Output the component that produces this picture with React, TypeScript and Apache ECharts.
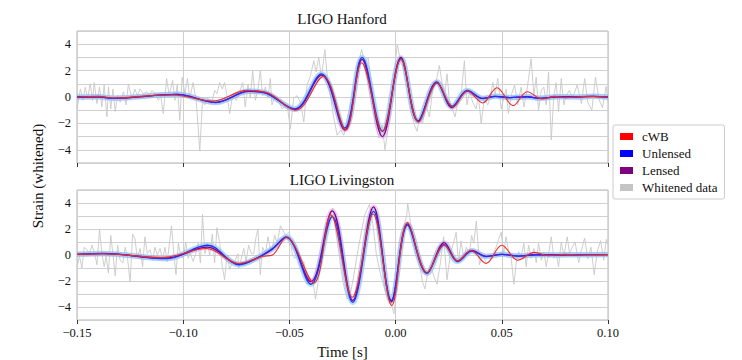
import React, { useEffect, useRef } from "react";
import * as echarts from "echarts";

const X_MIN = -0.15;
const X_MAX = 0.1;
const X_STEP = 0.05;
const Y_MIN = -5;
const Y_MAX = 5;
const Y_TICKS = [-4, -2, 0, 2, 4];
const PANEL_TITLES = ["LIGO Hanford", "LIGO Livingston"];
const LEGEND_NAMES = ["cWB", "Unlensed", "Lensed", "Whitened data"];

// ---- LIGO Hanford ----
const hanfordData: number[][] = [
  [-0.15, -0.9], [-0.1484, 0.6], [-0.1472, -0.25], [-0.1461, 0.75], [-0.145, -0.12], [-0.1438, 1.0], [-0.1427, -0.25], [-0.1419, 1.1],
  [-0.1406, -0.5], [-0.1394, 0.75], [-0.1383, -0.75], [-0.1372, 0.9], [-0.1359, -1.5], [-0.1352, 0.75], [-0.1341, -0.9], [-0.1331, 0.6],
  [-0.132, -1.1], [-0.1309, 0.1], [-0.1297, -0.4], [-0.1281, 0.4], [-0.1269, -0.6], [-0.1258, 1.0], [-0.1242, -0.1], [-0.1227, 0.6],
  [-0.1216, 0.1], [-0.1203, 0.6], [-0.1188, 0.25], [-0.1172, 0.4], [-0.1159, 0.1], [-0.1148, 0.5], [-0.1133, 0.3], [-0.1117, -0.25],
  [-0.1106, 0.1], [-0.1094, -1.25], [-0.1078, 1.4], [-0.1066, 0.1], [-0.105, 1.25], [-0.1039, -0.25], [-0.1028, 0.9], [-0.1016, -1.75],
  [-0.1005, 1.5], [-0.0992, 0.25], [-0.098, 1.4], [-0.0969, -0.1], [-0.0953, 1.1], [-0.0938, -0.4], [-0.0922, -4.1], [-0.0909, -0.25],
  [-0.0898, -0.6], [-0.0883, 0], [-0.0867, -0.5], [-0.0852, 0.5], [-0.0841, 0.25], [-0.0828, 1.1], [-0.0816, 0.6], [-0.0805, 1.1],
  [-0.0794, 0.1], [-0.0781, -1.25], [-0.0766, 0.25], [-0.075, -0.25], [-0.0734, 0.4], [-0.072, 1.1], [-0.0708, -0.75], [-0.0695, 0.9],
  [-0.0684, -0.1], [-0.0673, 2.0], [-0.066, -0.25], [-0.0648, 0.6], [-0.0637, 2.0], [-0.0626, 0.1], [-0.0613, 0.75], [-0.0601, -0.1],
  [-0.059, 1.4], [-0.0582, -0.6], [-0.0566, 0.1], [-0.055, -0.25], [-0.0535, -0.9], [-0.0511, -0.6], [-0.0495, -2.4], [-0.048, -0.1],
  [-0.0464, 0.1], [-0.0448, -0.4], [-0.0432, -1.9], [-0.0417, 0.9], [-0.0401, 1.6], [-0.0385, 2.75], [-0.0374, 1.9], [-0.0362, 3.0],
  [-0.0349, 1.5], [-0.0333, 3.6], [-0.0322, 1.6], [-0.0307, 0.1], [-0.0291, -1.6], [-0.0275, -2.9], [-0.0259, -2.5], [-0.0244, -2.9],
  [-0.0228, -1.6], [-0.0204, 0.1], [-0.0181, 2.1], [-0.016, 3.6], [-0.0145, 2.6], [-0.0129, 3.0], [-0.0113, 0.9], [-0.0097, -1.9],
  [-0.0079, -3.1], [-0.0063, -2.1], [-0.005, -4.0], [-0.0035, -2.4], [-0.0019, -0.6], [-0.0003, 2.4], [0.0008, 4.0], [0.0024, 2.6],
  [0.0039, 2.2], [0.0057, 1.4], [0.0072, -1.1], [0.0088, -2.1], [0.0101, -2.6], [0.0112, -1.6], [0.0127, -2.0], [0.0143, -0.6],
  [0.0159, -1.5], [0.0175, 0.6], [0.019, 1.1], [0.0206, 2.4], [0.0217, 1.25], [0.023, 0.1], [0.0242, 1.75], [0.0253, -0.25],
  [0.0269, -1.0], [0.028, -1.5], [0.0292, -0.5], [0.0308, 0.1], [0.0324, 2.75], [0.0336, -0.6], [0.0349, 0.4], [0.0363, -0.4],
  [0.0379, -0.9], [0.039, 0.1], [0.0403, -2.0], [0.0418, -0.1], [0.0434, -0.6], [0.0447, 0.1], [0.0458, 1.1], [0.0469, 0.25],
  [0.0481, 1.4], [0.0497, -0.9], [0.0509, -0.1], [0.052, 0.6], [0.0531, -1.25], [0.0544, 0.1], [0.056, 0.9], [0.0575, -0.6],
  [0.0591, 0.75], [0.0604, -0.75], [0.0615, 0.1], [0.0626, 1.4], [0.0638, 2.9], [0.0651, 0.1], [0.0662, 1.5], [0.0673, -1.0],
  [0.0686, 0.5], [0.0698, 0.75], [0.0709, -0.6], [0.072, 1.9], [0.0733, -3.25], [0.0745, 0.1], [0.0756, 1.1], [0.0767, -1.1],
  [0.078, 1.4], [0.0792, -0.6], [0.0803, 0.1], [0.0819, 0.5], [0.0832, -0.1], [0.0855, 0.9], [0.0875, -0.5], [0.089, 1.4],
  [0.0905, -0.4], [0.0924, -1.0], [0.0941, 1.5], [0.0958, -0.2], [0.0974, -0.8], [0.0991, 0.8], [0.1, -0.3],
];

const hanfordUnlensed: number[][] = [
  [-0.15, 0], [-0.14, 0.02], [-0.133, -0.1], [-0.103, 0.2], [-0.0846, -0.42], [-0.069, 0.45], [-0.061, 0.3], [-0.0475, -0.9],
  [-0.0349, 1.75], [-0.0239, -2.35], [-0.0158, 3.0], [-0.0062, -2.6], [0.0025, 2.9], [0.0106, -1.8], [0.0194, 1.1], [0.0266, -0.7],
  [0.0338, 0.5], [0.041, -0.12], [0.047, 0.05], [0.054, -0.05], [0.062, 0.02], [0.068, -0.1], [0.076, 0.02], [0.085, 0],
  [0.093, 0.05], [0.1, 0],
];

const hanfordLensed: number[][] = [
  [-0.15, 0], [-0.14, 0.02], [-0.133, -0.1], [-0.103, 0.2], [-0.0846, -0.4], [-0.069, 0.42], [-0.061, 0.3], [-0.0475, -0.95],
  [-0.0349, 1.65], [-0.0239, -2.5], [-0.0158, 2.85], [-0.0062, -3.0], [0.0025, 3.0], [0.0106, -1.85], [0.0194, 1.15], [0.0266, -0.8],
  [0.0338, 0.45], [0.041, -0.1], [0.047, 0.05], [0.054, -0.05], [0.062, 0.02], [0.068, -0.1], [0.076, 0.02], [0.085, 0],
  [0.093, 0.05], [0.1, 0],
];

const hanfordCWB: number[][] = [
  [-0.15, 0], [-0.14, 0.05], [-0.132, -0.08], [-0.12, 0.05], [-0.105, 0.15], [-0.086, -0.3], [-0.07, 0.5], [-0.06, 0.3],
  [-0.047, -1.0], [-0.034, 1.55], [-0.0235, -2.5], [-0.016, 2.6], [-0.0062, -2.6], [0.0025, 2.85], [0.0108, -1.9], [0.0196, 1.05],
  [0.027, -0.75], [0.0338, 0.45], [0.041, -0.45], [0.0477, 0.7], [0.0553, -0.65], [0.062, 0.4], [0.069, -0.15], [0.075, 0.05],
  [0.08, -0.05], [0.09, 0.05], [0.1, 0],
];

// ---- LIGO Livingston ----
const livingstonData: number[][] = [
  [-0.15, -0.9], [-0.1488, -0.1], [-0.1477, -1.0], [-0.1466, 0.6], [-0.1453, 0.4], [-0.1441, 0.1], [-0.143, 0.75], [-0.1419, 0.25],
  [-0.1406, -0.75], [-0.1394, 2.0], [-0.1383, 0.1], [-0.1372, -0.9], [-0.1363, -0.1], [-0.1352, -1.4], [-0.1341, 1.5], [-0.1331, 0.1],
  [-0.132, -1.6], [-0.1309, 0.75], [-0.1297, -0.4], [-0.1284, -0.6], [-0.1273, 0.6], [-0.1263, -0.1], [-0.125, -2.1], [-0.1238, 1.6],
  [-0.1227, 1.25], [-0.1216, -0.25], [-0.1203, 0.5], [-0.1191, -0.9], [-0.118, 1.4], [-0.1169, 0.1], [-0.1156, 0.4], [-0.1144, -0.4],
  [-0.1133, 0.6], [-0.1122, 0], [-0.1109, 0.5], [-0.1097, -0.4], [-0.1086, 0.6], [-0.1075, -0.5], [-0.1066, 0.75], [-0.1055, 2.25],
  [-0.1044, 0.1], [-0.1034, -1.5], [-0.1023, 0.9], [-0.1013, 0.1], [-0.1, -0.25], [-0.0988, 1.0], [-0.0977, -0.25], [-0.0966, 0.1],
  [-0.0953, -0.5], [-0.0941, 0.1], [-0.093, 0.9], [-0.0919, -0.6], [-0.0909, 3.1], [-0.0898, 0.1], [-0.0888, 0.9], [-0.0875, 0],
  [-0.0863, 1.6], [-0.0852, -0.6], [-0.0841, 2.1], [-0.0828, 0.9], [-0.0816, -0.9], [-0.0805, -1.9], [-0.0794, 0], [-0.0781, -1.1],
  [-0.0769, -0.6], [-0.0758, -0.5], [-0.0742, 0.1], [-0.0739, -1.0], [-0.0726, -0.25], [-0.0715, 0.5], [-0.0704, -0.5], [-0.0692, 0.75],
  [-0.0679, 0.1], [-0.0668, 0.1], [-0.0657, 1.4], [-0.0648, 2.0], [-0.0637, -1.5], [-0.0626, 0.6], [-0.0613, 0.1], [-0.0601, 1.4],
  [-0.059, 0.5], [-0.0582, 0.4], [-0.0569, 1.5], [-0.0558, 0.9], [-0.0542, 2.25], [-0.0531, 1.9], [-0.0519, 1.5], [-0.05, 1.75],
  [-0.0487, 0.1], [-0.0475, -0.25], [-0.0459, 0], [-0.0448, -0.9], [-0.0432, -0.5], [-0.0417, -2.25], [-0.0406, -1.75], [-0.039, -1.9],
  [-0.0377, -3.4], [-0.0362, -1.75], [-0.0346, 0.1], [-0.0327, 1.9], [-0.0311, 3.25], [-0.0296, 3.6], [-0.0283, 2.0], [-0.0267, 0.1],
  [-0.0248, -2.1], [-0.0228, -3.4], [-0.0212, -2.9], [-0.0197, -1.6], [-0.0181, 0], [-0.016, 1.9], [-0.0145, 3.1], [-0.0123, 3.9],
  [-0.0107, 2.4], [-0.0091, 0.1], [-0.0071, -1.5], [-0.0047, -2.9], [-0.0028, -3.25], [-0.0008, -4.5], [0.0008, -2.4], [0.0024, 0.1],
  [0.0039, 2.25], [0.0052, 3.0], [0.0057, 4.0], [0.0069, 2.6], [0.008, 1.4], [0.0096, 0.1], [0.0112, -0.6], [0.0127, -2.1],
  [0.0138, -2.6], [0.0151, -1.4], [0.0167, -0.9], [0.0179, -1.6], [0.0195, -2.25], [0.0211, -0.6], [0.0226, 1.4], [0.0242, -1.9],
  [0.0258, 0.1], [0.0274, 1.0], [0.0285, 1.75], [0.0296, -0.6], [0.0308, 1.1], [0.0321, -0.25], [0.0333, 0.6], [0.0347, 0.1],
  [0.0358, 1.5], [0.0368, 0.9], [0.038, 2.6], [0.0395, -0.75], [0.041, 0.1], [0.0426, -0.6], [0.0442, -0.5], [0.0458, 0],
  [0.0473, 0.6], [0.0486, 1.25], [0.0497, 1.75], [0.0509, 0.1], [0.052, 1.4], [0.0531, 0.4], [0.0544, -0.25], [0.0557, -2.25],
  [0.0568, -0.6], [0.0579, 0.25], [0.0591, -0.1], [0.0604, 0.9], [0.0615, -0.9], [0.0626, 0.75], [0.0638, -0.25], [0.0651, 0.5],
  [0.0662, -0.6], [0.0673, 0.9], [0.0686, -0.4], [0.0698, 0.25], [0.0709, -0.9], [0.072, 0.1], [0.0733, 1.4], [0.0745, -0.25],
  [0.0756, 0.1], [0.0767, -0.9], [0.078, 1.0], [0.0792, -0.1], [0.0808, 1.4], [0.0819, 0.1], [0.0832, 0.6], [0.0845, 1.0],
  [0.0862, -0.6], [0.0875, 0.4], [0.089, 1.3], [0.0905, -0.3], [0.092, 0.6], [0.0935, -1.5], [0.095, 0.3], [0.0965, 1.1],
  [0.098, -0.4], [0.0992, 1.2], [0.1, 0.8],
];

const livingstonUnlensed: number[][] = [
  [-0.15, 0.05], [-0.1375, 0.12], [-0.108, -0.28], [-0.0885, 0.75], [-0.0736, -0.75], [-0.066, -0.3], [-0.058, 0.5], [-0.0515, 1.4],
  [-0.0399, -2.25], [-0.0298, 2.95], [-0.0202, -3.65], [-0.0104, 3.35], [-0.002, -3.5], [0.0056, 2.3], [0.0148, -1.4], [0.0229, 0.8],
  [0.0292, -0.5], [0.0359, 0.3], [0.0427, -0.12], [0.05, 0.05], [0.058, -0.08], [0.066, 0.02], [0.075, 0], [0.085, 0.02], [0.1, 0.03],
];

const livingstonLensed: number[][] = [
  [-0.15, 0.05], [-0.1375, 0.1], [-0.108, -0.25], [-0.0885, 0.6], [-0.0736, -0.7], [-0.066, -0.3], [-0.058, 0.45], [-0.0515, 1.35],
  [-0.0399, -2.05], [-0.0298, 3.4], [-0.0202, -3.5], [-0.0104, 3.7], [-0.002, -3.6], [0.0056, 2.4], [0.0148, -1.4], [0.0229, 0.95],
  [0.0292, -0.45], [0.0359, 0.35], [0.0427, -0.1], [0.05, 0.05], [0.058, -0.08], [0.066, 0.02], [0.075, 0], [0.085, 0.02], [0.1, 0.03],
];

const livingstonCWB: number[][] = [
  [-0.15, 0.05], [-0.138, 0.1], [-0.11, -0.2], [-0.089, 0.5], [-0.074, -0.65], [-0.066, -0.3], [-0.0625, -0.1], [-0.058, 0.0],
  [-0.0515, 1.35], [-0.0385, -2.15], [-0.0305, 3.1], [-0.0204, -3.25], [-0.0106, 3.15], [-0.0018, -3.9], [0.0056, 2.5], [0.0148, -1.35],
  [0.0229, 0.75], [0.0292, -0.45], [0.0355, 0.35], [0.0426, -0.65], [0.05, 0.75], [0.0575, -0.4], [0.0654, 0.2], [0.072, -0.05],
  [0.08, 0.05], [0.09, 0], [0.1, 0.03],
];

const PANELS = [
  { data: hanfordData, unlensed: hanfordUnlensed, lensed: hanfordLensed, cwb: hanfordCWB },
  { data: livingstonData, unlensed: livingstonUnlensed, lensed: livingstonLensed, cwb: livingstonCWB },
];

const FONT = "'Liberation Serif', 'DejaVu Serif', serif";
const SMOOTH = 0.36;
const minus = (s: string) => s.replace("-", "\u2212");

export default function App() {
  const ref = useRef<HTMLDivElement>(null);

  useEffect(() => {
    document.body.style.margin = "0";
    const chart = echarts.init(ref.current!, undefined, { renderer: "svg" });

    const grids = [
      { left: 77, right: 134, top: 31, height: 132 },
      { left: 77, right: 134, top: 190, height: 132 },
    ].map((g) => ({ ...g, show: true, borderColor: "#b5b5b5", borderWidth: 1, backgroundColor: "transparent" }));

    const xAxes = [0, 1].map((i) => ({
      type: "value",
      gridIndex: i,
      min: X_MIN,
      max: X_MAX,
      interval: X_STEP,
      axisLine: { show: false, onZero: false },
      axisTick: { show: true, length: 4, lineStyle: { color: "#333" } },
      splitLine: { show: true, lineStyle: { color: "#cfcfcf", width: 1 } },
      axisLabel: {
        show: i === 1,
        fontFamily: FONT,
        fontSize: 12.5,
        color: "#111",
        margin: 6,
        formatter: (v: number) => minus(v.toFixed(2)),
      },
      name: i === 1 ? "Time [s]" : "",
      nameLocation: "middle",
      nameGap: 24,
      nameTextStyle: { fontFamily: FONT, fontSize: 15, color: "#111" },
    }));

    const yAxes = [0, 1].map((i) => ({
      type: "value",
      gridIndex: i,
      min: Y_MIN,
      max: Y_MAX,
      interval: 1,
      axisLine: { show: false, onZero: false },
      axisTick: { show: false },
      splitLine: {
        show: true,
        lineStyle: { color: "#cfcfcf", width: 1 },
        interval: (_: number, v: any) => Y_TICKS.includes(Number(v)),
      },
      axisLabel: {
        fontFamily: FONT,
        fontSize: 12.5,
        color: "#111",
        margin: 6,
        formatter: (v: number) => (Y_TICKS.includes(v) ? minus(String(v)) : ""),
      },
    }));

    const series: any[] = [];
    PANELS.forEach((p, i) => {
      const base = { type: "line", xAxisIndex: i, yAxisIndex: i, showSymbol: false, symbol: "none" };
      series.push({
        ...base,
        name: "Whitened data",
        data: p.data,
        color: "#c4c4c4",
        itemStyle: { color: "#c4c4c4" },
        lineStyle: { color: "#c8c8c8", width: 0.9 },
        z: 1,
      });
      series.push({
        ...base,
        name: "Lensed band",
        data: p.lensed,
        smooth: SMOOTH,
        lineStyle: { color: "rgba(225,150,225,0.5)", width: 5 },
        z: 2,
        silent: true,
      });
      series.push({
        ...base,
        name: "Unlensed band",
        data: p.unlensed,
        smooth: SMOOTH,
        lineStyle: { color: "rgba(120,200,240,0.55)", width: 5.5 },
        z: 3,
        silent: true,
      });
      series.push({
        ...base,
        name: "Lensed",
        data: p.lensed,
        smooth: SMOOTH,
        color: "#800080",
        itemStyle: { color: "#800080" },
        lineStyle: { color: "#800080", width: 1.3 },
        z: 4,
      });
      series.push({
        ...base,
        name: "Unlensed",
        data: p.unlensed,
        smooth: SMOOTH,
        color: "#0000ff",
        itemStyle: { color: "#0000ff" },
        lineStyle: { color: "#2a2aff", width: 1.3 },
        z: 5,
      });
      series.push({
        ...base,
        name: "cWB",
        data: p.cwb,
        smooth: SMOOTH,
        color: "#ff0000",
        itemStyle: { color: "#ff0000" },
        lineStyle: { color: "#f02828", width: 1.1 },
        z: 6,
      });
    });

    chart.setOption({
      animation: false,
      backgroundColor: "#ffffff",
      grid: grids,
      xAxis: xAxes,
      yAxis: yAxes,
      series,
      legend: {
        data: LEGEND_NAMES.map((n) => ({ name: n, icon: "rect" })),
        orient: "vertical",
        left: 613,
        top: 125,
        itemWidth: 13,
        itemHeight: 7,
        itemGap: 4,
        padding: [5, 7, 5, 7],
        borderColor: "#cccccc",
        borderWidth: 1,
        borderRadius: 2,
        backgroundColor: "#ffffff",
        selectedMode: false,
        textStyle: { fontFamily: FONT, fontSize: 13, color: "#111", padding: [0, 0, 0, 4] },
      },
      graphic: [
        {
          type: "text",
          x: 342,
          y: 19,
          style: { text: PANEL_TITLES[0], font: `15px ${FONT}`, fill: "#111", textAlign: "center", textVerticalAlign: "middle" },
        },
        {
          type: "text",
          x: 342,
          y: 180,
          style: { text: PANEL_TITLES[1], font: `15px ${FONT}`, fill: "#111", textAlign: "center", textVerticalAlign: "middle" },
        },
        {
          type: "text",
          x: 38,
          y: 176,
          rotation: Math.PI / 2,
          style: { text: "Strain (whitened)", font: `15px ${FONT}`, fill: "#111", textAlign: "center", textVerticalAlign: "middle" },
        },
      ],
    });

    return () => chart.dispose();
  }, []);

  return <div ref={ref} style={{ width: 742, height: 360 }} />;
}
